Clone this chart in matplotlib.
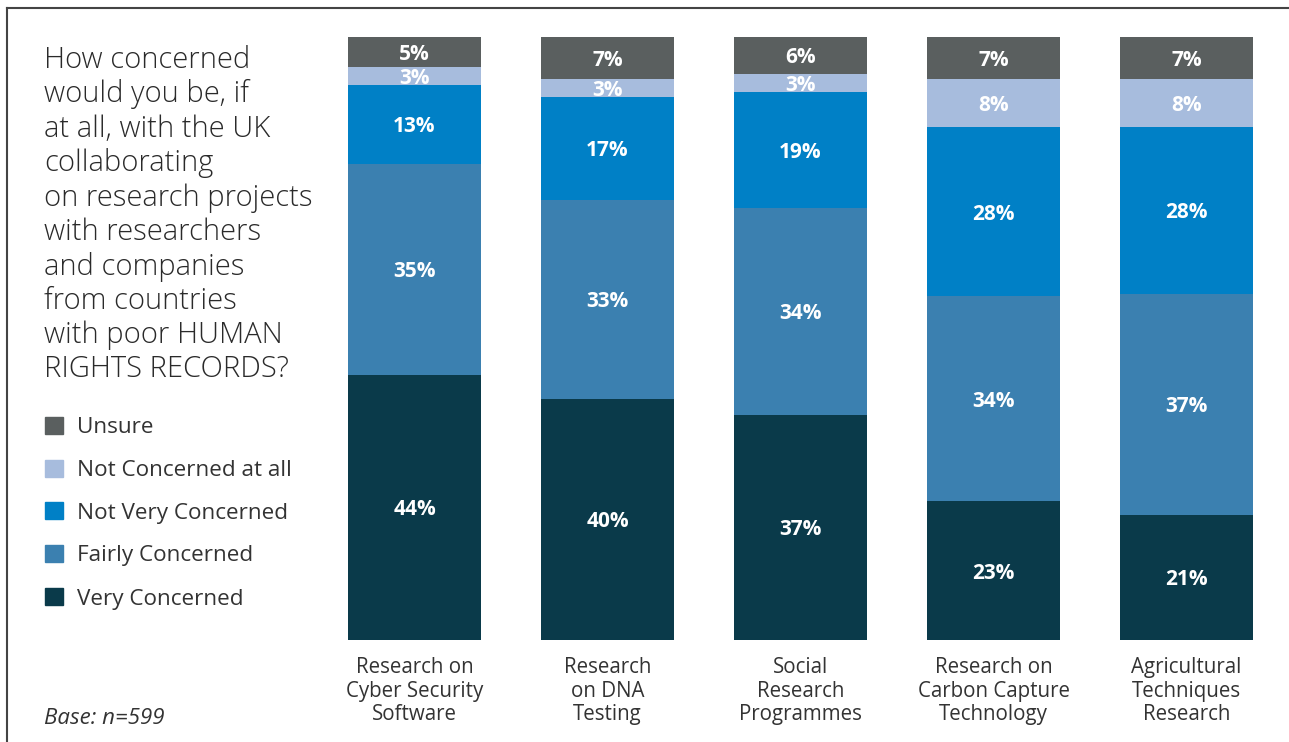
import matplotlib.pyplot as plt
from matplotlib.lines import Line2D
import numpy as np

plt.rcParams['font.family'] = ['Open Sans', 'DejaVu Sans']

categories = [
    "Research on\nCyber Security\nSoftware",
    "Research\non DNA\nTesting",
    "Social\nResearch\nProgrammes",
    "Research on\nCarbon Capture\nTechnology",
    "Agricultural\nTechniques\nResearch",
]

# stacking order: bottom to top
series = ["Very Concerned", "Fairly Concerned", "Not Very Concerned",
          "Not Concerned at all", "Unsure"]
very_concerned = [44, 40, 37, 23, 21]
fairly_concerned = [35, 33, 34, 34, 37]
not_very_concerned = [13, 17, 19, 28, 28]
not_concerned_at_all = [3, 3, 3, 8, 8]
unsure = [5, 7, 6, 7, 7]

colors = ["#0a3a4a", "#3b80b0", "#0080c6", "#a7bcdd", "#5a5f5f"]

values = np.array([very_concerned, fairly_concerned, not_very_concerned,
                   not_concerned_at_all, unsure], dtype=float)
# each bar is scaled to fill the full column
heights = values / values.sum(axis=0) * 100

fig = plt.figure(figsize=(12.89, 7.42), dpi=100)
ax = fig.add_axes([318 / 1289, 1 - 640 / 742, 965 / 1289, 603 / 742])

x = np.arange(len(categories))
bottom = np.zeros(len(categories))
for i, name in enumerate(series):
    ax.bar(x, heights[i], bottom=bottom, width=0.689, color=colors[i],
           label=name, linewidth=0)
    for xi, b, h, v in zip(x, bottom, heights[i], values[i]):
        ax.text(xi, b + h / 2 - 0.4, f"{int(v)}%", ha='center', va='center',
                color='white', fontsize=15, fontweight='bold')
    bottom += heights[i]

ax.set_xlim(-0.5, 4.5)
ax.set_ylim(0, 100)
ax.axis('off')

for xi, cat in zip(x, categories):
    ax.text(xi, -2.9, cat, ha='center', va='top', fontsize=14.8,
            color='#333333', linespacing=1.13)

# question text on the left
fig.text(44 / 1289, 1 - 45 / 742,
         "How concerned\nwould you be, if\nat all, with the UK\ncollaborating\n"
         "on research projects\nwith researchers\nand companies\nfrom countries\n"
         "with poor HUMAN\nRIGHTS RECORDS?",
         ha='left', va='top', fontsize=21, color='#2a2a2a', linespacing=1.21,
         fontweight='light')

# legend, top entry first
leg_y = [426, 469, 511, 554, 597]
for name, col, yy in zip(series[::-1], colors[::-1], leg_y):
    fig.patches.append(plt.Rectangle((45 / 1289, 1 - (yy + 8) / 742),
                                     18 / 1289, 17 / 742, color=col,
                                     transform=fig.transFigure))
    fig.text(77 / 1289, 1 - (yy + 2) / 742, name, ha='left', va='center',
             fontsize=16.2, color='#333333')

fig.text(44 / 1289, 1 - 718 / 742, "Base: n=599", ha='left', va='center',
         fontsize=16, style='italic', color='#333333')

# frame around the panel
fig.add_artist(Line2D([7 / 1289, 1], [1 - 8 / 742, 1 - 8 / 742],
                      color='#444444', lw=1.5, transform=fig.transFigure))
fig.add_artist(Line2D([7 / 1289, 7 / 1289], [0, 1 - 8 / 742],
                      color='#444444', lw=1.5, transform=fig.transFigure))

fig.savefig("out.png", dpi=100)
